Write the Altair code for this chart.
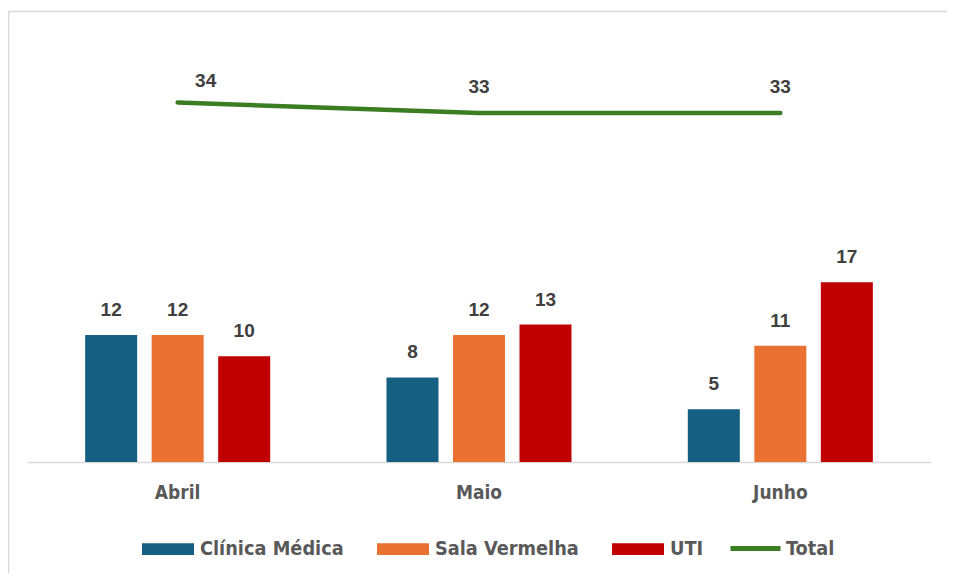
import altair as alt
import pandas as pd

months = ["Abril", "Maio", "Junho"]
series = ["Clínica Médica", "Sala Vermelha", "UTI"]
clinica_medica = [12, 8, 5]
sala_vermelha = [12, 12, 11]
uti = [10, 13, 17]
total = [34, 33, 33]
bar_colors = ["#156082", "#E97132", "#C00000"]
line_color = "#3B7D23"

rows = []
for name, vals in zip(series, [clinica_medica, sala_vermelha, uti]):
    for m, v in zip(months, vals):
        rows.append({"mes": m, "serie": name, "valor": v})
bars_df = pd.DataFrame(rows)
total_df = pd.DataFrame({"mes": months, "serie": ["Total"] * len(months), "valor": total})

cond_font = "DejaVu Sans Condensed"
num_font = "Liberation Sans"
label_gray = "#595959"
num_gray = "#404040"

x = alt.X(
    "mes:N",
    sort=months,
    scale=alt.Scale(paddingInner=0.386, paddingOuter=0.193),
    axis=alt.Axis(
        title=None, labelAngle=0, ticks=False, tickSize=0, grid=False,
        domainColor="#d9d9d9", domainWidth=1.5,
        labelFont=cond_font, labelFontSize=19, labelFontWeight="bold",
        labelColor=label_gray, labelPadding=21,
    ),
)
y = alt.Y("valor:Q", scale=alt.Scale(domain=[0, 40], nice=False, zero=True), axis=None)
xoff = alt.XOffset("serie:N", sort=series, scale=alt.Scale(paddingInner=0.218, paddingOuter=0))

bar_legend = alt.Legend(
    title=None, orient="none", legendX=115, legendY=484, direction="horizontal",
    symbolType="M-1,-0.23L1,-0.23L1,0.23L-1,0.23Z", symbolSize=2704, symbolStrokeWidth=0,
    labelFont=cond_font, labelFontSize=19.75, labelFontWeight="bold", labelColor=label_gray,
    labelOffset=6, columnPadding=33, labelLimit=300,
)
line_legend = alt.Legend(
    title=None, orient="none", legendX=701, legendY=482, direction="horizontal",
    symbolType="M-1,0L1,0", symbolSize=2500, symbolStrokeWidth=5,
    labelFont=cond_font, labelFontSize=19.75, labelFontWeight="bold", labelColor=label_gray,
    labelOffset=3, labelLimit=300,
)

base_bars = alt.Chart(bars_df)
bars = base_bars.mark_bar().encode(
    x=x, y=y, xOffset=xoff,
    color=alt.Color("serie:N", sort=series, scale=alt.Scale(domain=series, range=bar_colors), legend=bar_legend),
)
bar_labels = base_bars.mark_text(
    font=num_font, fontSize=19, fontWeight="bold", color=num_gray, baseline="alphabetic", dy=-19
).encode(x=x, y=y, xOffset=xoff, text=alt.Text("valor:Q"))

base_line = alt.Chart(total_df)
line = base_line.mark_line(strokeWidth=4.5, interpolate="linear", strokeCap="round", strokeJoin="round").encode(
    x=x, y=y,
    stroke=alt.Stroke("serie:N", scale=alt.Scale(domain=["Total"], range=[line_color]), legend=line_legend),
)
line_label_first = base_line.transform_filter(alt.datum.mes == months[0]).mark_text(
    font=num_font, fontSize=19, fontWeight="bold", color=num_gray, baseline="alphabetic", dx=28, dy=-15
).encode(x=x, y=y, text=alt.Text("valor:Q"))
line_label_rest = base_line.transform_filter(alt.datum.mes != months[0]).mark_text(
    font=num_font, fontSize=19, fontWeight="bold", color=num_gray, baseline="alphabetic", dy=-20
).encode(x=x, y=y, text=alt.Text("valor:Q"))

frame_df = pd.DataFrame({"b": [0]})
frame_left = alt.Chart(frame_df).mark_rule(color="#d9d9d9", strokeWidth=1.5).encode(
    x=alt.value(-18.5), y=alt.value(-27.5), y2=alt.value(700)
)
frame_top = alt.Chart(frame_df).mark_rule(color="#d9d9d9", strokeWidth=1.5).encode(
    x=alt.value(-18.5), x2=alt.value(1000), y=alt.value(-27.5)
)

chart = alt.layer(frame_left, frame_top, bars, bar_labels, line, line_label_first, line_label_rest).properties(
    width=904, height=423,
    padding={"left": 19, "top": 31, "right": 16, "bottom": 111},
    autosize=alt.AutoSizeParams(type="none"),
    background="white",
).configure_view(stroke=None)

chart.save("out.html", embed_options={"renderer": "svg", "actions": False})
